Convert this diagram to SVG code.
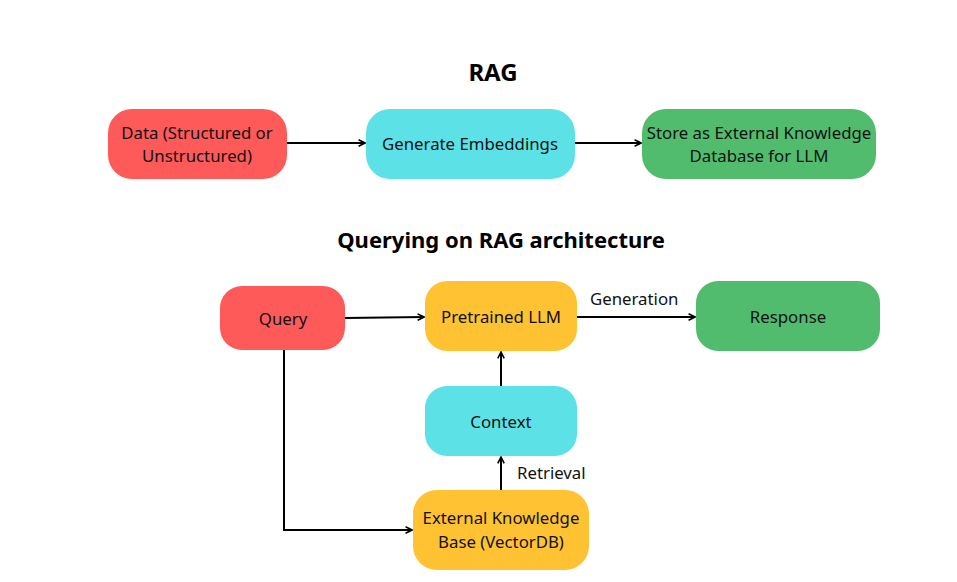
<svg xmlns="http://www.w3.org/2000/svg" width="957" height="582" viewBox="0 0 957 582">
<style>
.t{font-family:"Noto Sans","Open Sans",sans-serif;font-size:16.8px;fill:#111;text-anchor:middle}
.lb{font-family:"Noto Sans","Open Sans",sans-serif;font-size:16.8px;fill:#111}
.h{font-family:"Noto Sans","Open Sans",sans-serif;font-size:22px;font-weight:bold;fill:#000;text-anchor:middle}
.red{fill:#FF5A5A}.cyan{fill:#5CE1E6}.green{fill:#51BC6D}.yel{fill:#FFC233}
.c{fill:none;stroke:#000;stroke-width:2}
</style>
<defs>
<marker id="a" viewBox="0 0 10 10" refX="9" refY="5" markerWidth="8" markerHeight="8" markerUnits="userSpaceOnUse" orient="auto">
<path d="M1,1 L9,5 L1,9" fill="none" stroke="#000" stroke-width="2"/>
</marker>
</defs>
<rect width="957" height="582" fill="#fff"/>
<text class="h" x="493" y="81" style="font-size:24px">RAG</text>
<text class="h" x="501" y="248">Querying on RAG architecture</text>
<g id="connectors">
<path class="c" d="M287,143 H365" marker-end="url(#a)"/>
<path class="c" d="M575,143 H641" marker-end="url(#a)"/>
<path class="c" d="M345,318 L424,317" marker-end="url(#a)"/>
<path class="c" d="M577,317 H695" marker-end="url(#a)"/>
<path class="c" d="M501,386 V352" marker-end="url(#a)"/>
<path class="c" d="M501,490 V457" marker-end="url(#a)"/>
<path class="c" d="M284,350 V530 H412" marker-end="url(#a)"/>
<text class="lb" x="590" y="305">Generation</text>
<text class="lb" x="517" y="479">Retrieval</text>
</g>
<g id="data"><rect class="red" x="108" y="109" width="179" height="70" rx="24"/>
<text class="t" x="197" y="139">Data (Structured or</text><text class="t" x="197" y="162">Unstructured)</text></g>
<g id="embed"><rect class="cyan" x="366" y="109" width="209" height="70" rx="24"/>
<text class="t" x="470" y="150">Generate Embeddings</text></g>
<g id="store"><rect class="green" x="642" y="109" width="234" height="70" rx="24"/>
<text class="t" x="759" y="139">Store as External Knowledge</text><text class="t" x="759" y="162">Database for LLM</text></g>
<g id="query"><rect class="red" x="220" y="286" width="125" height="64" rx="22"/>
<text class="t" x="283" y="325">Query</text></g>
<g id="llm"><rect class="yel" x="425" y="281" width="152" height="70" rx="22"/>
<text class="t" x="501" y="323">Pretrained LLM</text></g>
<g id="response"><rect class="green" x="696" y="281" width="184" height="70" rx="22"/>
<text class="t" x="788" y="323">Response</text></g>
<g id="context"><rect class="cyan" x="425" y="386" width="152" height="70" rx="22"/>
<text class="t" x="501" y="428">Context</text></g>
<g id="kb"><rect class="yel" x="413" y="490" width="176" height="80" rx="24"/>
<text class="t" x="501" y="524">External Knowledge</text><text class="t" x="501" y="548">Base (VectorDB)</text></g>
</svg>
